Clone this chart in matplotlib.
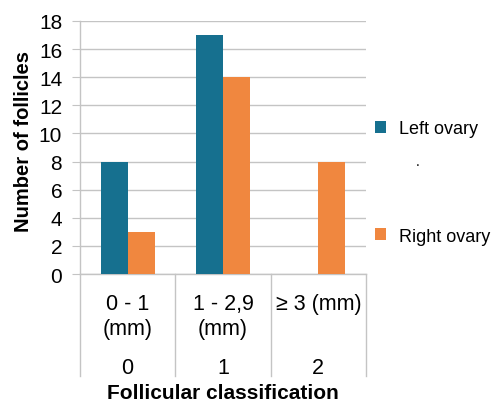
import matplotlib.pyplot as plt
import numpy as np

plt.rcParams['font.family'] = ['Liberation Sans', 'DejaVu Sans']

size_labels = ['0 - 1\n(mm)', '1 - 2,9\n(mm)', '≥ 3 (mm)']
class_labels = ['0', '1', '2']
left_ovary = [8, 17, 0]
right_ovary = [3, 14, 8]

blue = '#16708f'
orange = '#f0873f'
grid_color = '#c4c4c4'

fig = plt.figure(figsize=(4.95, 4.02), dpi=100)
ax = fig.add_axes([0.1616, 0.3159, 0.5778, 0.6294])

x = np.arange(len(class_labels))
w = 0.283
ax.bar(x - w / 2, left_ovary, width=w, color=blue, label='Left ovary', zorder=3)
ax.bar(x + w / 2, right_ovary, width=w, color=orange, label='Right ovary', zorder=3)

ax.set_xlim(-0.5, 2.5)
ax.set_ylim(0, 18)
ax.set_yticks(range(0, 19, 2))
ax.yaxis.grid(True, color=grid_color, linewidth=1)
ax.tick_params(axis='y', length=5.8, color=grid_color, labelsize=15, pad=7)
ax.tick_params(axis='x', length=0, labelbottom=False)
for s in ['top', 'right']:
    ax.spines[s].set_visible(False)
for s in ['left', 'bottom']:
    ax.spines[s].set_color(grid_color)
    ax.spines[s].set_linewidth(1)

ax.set_ylabel('Number of follicles', fontsize=14.5, fontweight='bold')
ax.yaxis.set_label_coords(-0.165, 0.526)

# category labels with dividers below the axis
trans = ax.get_xaxis_transform()
for b in np.arange(-0.5, 3, 1):
    ax.plot([b, b], [0, -0.403], color=grid_color, linewidth=1,
            transform=trans, clip_on=False)
for i in x:
    ax.text(i, -0.075, size_labels[i], transform=trans, ha='center', va='top',
            fontsize=15.5, linespacing=1.22)
    ax.text(i, -0.368, class_labels[i], transform=trans, ha='center',
            va='center', fontsize=15.5)
ax.text(1, -0.47, 'Follicular classification', transform=trans,
        ha='center', va='center', fontsize=15, fontweight='bold')

leg = ax.legend(loc='center left', bbox_to_anchor=(1.0, 0.362), frameon=False,
                fontsize=13, handlelength=0.6, handleheight=0.6,
                handletextpad=0.75, labelspacing=5.0, borderaxespad=0,
                borderpad=0.5)
fig.text(0.844, 0.587, '.', fontsize=10, ha='center', va='baseline')

fig.savefig('out.png', dpi=100)
